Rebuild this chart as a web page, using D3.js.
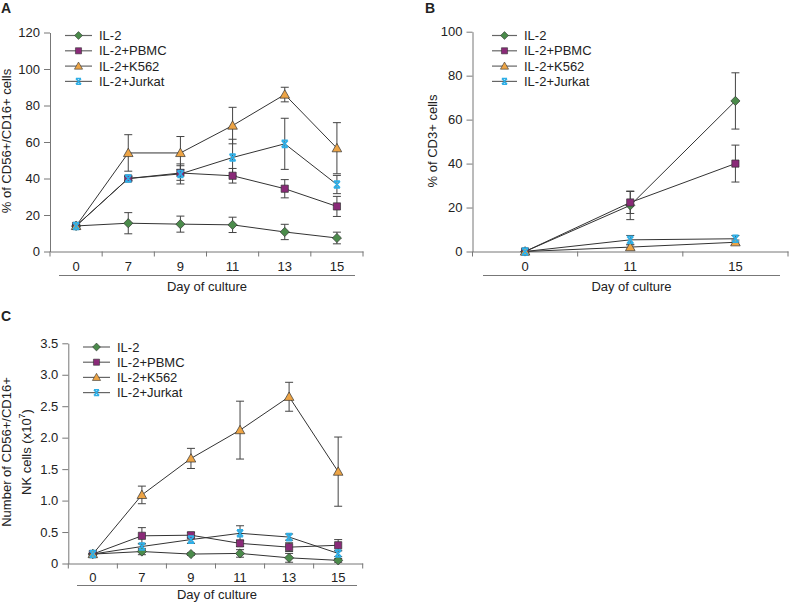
<!DOCTYPE html>
<html>
<head>
<meta charset="utf-8">
<script src="https://cdn.jsdelivr.net/npm/d3@7"></script>
<style>
  body { margin: 0; background: #fff; }
  text { font-family: "Liberation Sans", Arial, sans-serif; fill: #222; }
</style>
</head>
<body>
<script>
// data ----------------------------------------------------------
const seriesNames = ["IL-2", "IL-2+PBMC", "IL-2+K562", "IL-2+Jurkat"];
const seriesColors = ["#4b8b4b", "#8a2a78", "#eda445", "#2eaee6"];

// A: % of CD56+/CD16+ cells
const daysA = ["0", "7", "9", "11", "13", "15"];
const aIL2 = [14, 15.5, 15, 14.6, 10.7, 7.4];
const aIL2Err = [0.5, 5.8, 4.4, 4.2, 4.2, 3.2];
const aPBMC = [14, 40, 43, 41.5, 34.4, 24.7];
const aPBMCErr = [0.5, 1.2, 4, 4, 5, 5.5];
const aK562 = [14, 54, 54, 69, 86, 56.6];
const aK562Err = [0.5, 10, 9, 10, 4, 14];
const aJurkat = [14, 40, 42.5, 51.5, 59, 36.7];
const aJurkatErr = [0.5, 1, 5.5, 10, 14, 5];
const ticksA = [0, 20, 40, 60, 80, 100, 120];

// B: % of CD3+ cells
const daysB = ["0", "11", "15"];
const bIL2 = [0, 21, 68.5];
const bIL2Err = [0.3, 6.5, 12.8];
const bPBMC = [0, 22.3, 40];
const bPBMCErr = [0.3, 5, 8.4];
const bK562 = [0, 2, 4.2];
const bK562Err = [0.3, 1, 1];
const bJurkat = [0, 5.3, 5.8];
const bJurkatErr = [0.3, 2, 1.5];
const ticksB = [0, 20, 40, 60, 80, 100];

// C: number of CD56+/CD16+ NK cells (x10^7)
const daysC = ["0", "7", "9", "11", "13", "15"];
const cIL2 = [0.15, 0.19, 0.15, 0.16, 0.09, 0.05];
const cIL2Err = [0.01, 0.05, 0.02, 0.06, 0.07, 0.03];
const cPBMC = [0.15, 0.44, 0.45, 0.32, 0.26, 0.29];
const cPBMCErr = [0.01, 0.13, 0.04, 0.05, 0.07, 0.09];
const cK562 = [0.15, 1.09, 1.67, 2.12, 2.65, 1.46];
const cK562Err = [0.01, 0.14, 0.16, 0.46, 0.23, 0.55];
const cJurkat = [0.15, 0.27, 0.38, 0.48, 0.42, 0.16];
const cJurkatErr = [0.01, 0.05, 0.06, 0.12, 0.05, 0.05];
const ticksC = [0, 0.5, 1.0, 1.5, 2.0, 2.5, 3.0, 3.5];

// markers -------------------------------------------------------
const markerPaths = [
  "M0,-4.6L4.6,0L0,4.6L-4.6,0Z",             // diamond
  "M-3.6,-3.6H3.6V3.6H-3.6Z",                 // square
  "M0,-4.8L4.8,3.6H-4.8Z",                    // triangle
  "M-3,-3.4H3M-3,3.4H3M-3,-3.4L3,3.4M3,-3.4L-3,3.4"   // x with bars
];

const drawMarker = (sel, i) => {
  if (i === 3) {
    sel.append("path").attr("d", markerPaths[3])
      .attr("fill", "none").attr("stroke", seriesColors[3]).attr("stroke-width", 1.8);
  } else {
    sel.append("path").attr("d", markerPaths[i])
      .attr("fill", seriesColors[i]).attr("stroke", "#333").attr("stroke-width", 0.7);
  }
};

const svg = d3.select(document.body).append("svg")
  .attr("width", 789)
  .attr("height", 605);

function drawPanel (p) {
  const g = svg.append("g");

  const x = d3.scaleBand().domain(p.days).range(p.xRange).padding(0);
  const y = d3.scaleLinear().domain([0, d3.max(p.ticks)]).range(p.yRange);

  // y axis
  const yAxis = g.append("g")
    .attr("transform", `translate(${p.xRange[0]},0)`)
    .call(d3.axisLeft(y).tickValues(p.ticks).tickSize(6).tickSizeOuter(0).tickFormat(p.fmt));
  yAxis.selectAll("line, path").attr("stroke", "#777");
  yAxis.selectAll("text").attr("font-size", 13).attr("fill", "#222")
    .style("font-family", "'Liberation Sans', Arial, sans-serif").attr("dx", -1);

  // x axis: labels in band centres, ticks on band edges
  const xAxis = g.append("g")
    .attr("transform", `translate(0,${y(0)})`)
    .call(d3.axisBottom(x).tickSize(0).tickPadding(p.labelPad));
  xAxis.select(".domain").attr("stroke", "#777");
  xAxis.selectAll("text").attr("font-size", 13).attr("fill", "#222")
    .style("font-family", "'Liberation Sans', Arial, sans-serif");
  g.append("g").selectAll("line")
    .data(d3.range(p.days.length + 1))
    .join("line")
      .attr("x1", i => p.xRange[0] + i * x.step())
      .attr("x2", i => p.xRange[0] + i * x.step())
      .attr("y1", y(0))
      .attr("y2", y(0) + 5)
      .attr("stroke", "#777");

  // rule under the day labels
  g.append("line")
    .attr("x1", p.rule[0]).attr("x2", p.rule[1])
    .attr("y1", p.ruleY).attr("y2", p.ruleY)
    .attr("stroke", "#777");

  g.append("text")
    .attr("x", (p.rule[0] + p.rule[1]) / 2)
    .attr("y", p.titleY)
    .attr("text-anchor", "middle")
    .attr("font-size", 13)
    .text("Day of culture");

  // y label
  const yl = g.append("text")
    .attr("transform", `translate(${p.yLabelX},${p.yLabelY}) rotate(-90)`)
    .attr("text-anchor", "middle")
    .attr("font-size", 13);
  p.yLabel(yl);

  // panel letter
  g.append("text")
    .attr("x", p.letterPos[0]).attr("y", p.letterPos[1])
    .attr("font-size", 14).attr("font-weight", "bold")
    .text(p.letter);

  const cx = d => x(d) + x.bandwidth() / 2;

  p.values.forEach((vals, s) => {
    const pts = vals.map((v, i) => ({ day: p.days[i], v: v, e: p.errs[s][i] }));
    const eb = g.append("g").attr("stroke", "#444").attr("stroke-width", 1);
    eb.selectAll("line.v").data(pts).join("line")
      .attr("x1", d => cx(d.day)).attr("x2", d => cx(d.day))
      .attr("y1", d => y(d.v + d.e)).attr("y2", d => y(Math.max(0, d.v - d.e)));
    eb.selectAll("line.t").data(pts).join("line")
      .attr("x1", d => cx(d.day) - 4).attr("x2", d => cx(d.day) + 4)
      .attr("y1", d => y(d.v + d.e)).attr("y2", d => y(d.v + d.e));
    eb.selectAll("line.b").data(pts.filter(d => d.v - d.e > 0)).join("line")
      .attr("x1", d => cx(d.day) - 4).attr("x2", d => cx(d.day) + 4)
      .attr("y1", d => y(d.v - d.e)).attr("y2", d => y(d.v - d.e));

    g.append("path")
      .datum(pts)
      .attr("fill", "none")
      .attr("stroke", "#333")
      .attr("stroke-width", 1)
      .attr("d", d3.line().x(d => cx(d.day)).y(d => y(d.v)));
  });

  p.values.forEach((vals, s) => {
    vals.forEach((v, i) => {
      const m = g.append("g").attr("transform", `translate(${cx(p.days[i])},${y(v)})`);
      drawMarker(m, s);
    });
  });

  // legend
  const lg = g.append("g");
  seriesNames.forEach((name, i) => {
    const ly = p.legend.y + i * p.legend.dy;
    lg.append("line")
      .attr("x1", p.legend.x).attr("x2", p.legend.x + p.legend.w)
      .attr("y1", ly).attr("y2", ly)
      .attr("stroke", "#666").attr("stroke-width", 1.2);
    const m = lg.append("g")
      .attr("transform", `translate(${p.legend.x + p.legend.w / 2},${ly}) scale(0.85)`);
    drawMarker(m, i);
    lg.append("text")
      .attr("x", p.legend.x + p.legend.w + 7)
      .attr("y", ly + 4.5)
      .attr("font-size", 13)
      .text(name);
  });
}

drawPanel({
  letter: "A", letterPos: [1, 12.5],
  days: daysA, ticks: ticksA, fmt: d3.format("d"),
  values: [aIL2, aPBMC, aK562, aJurkat],
  errs: [aIL2Err, aPBMCErr, aK562Err, aJurkatErr],
  xRange: [50, 363], yRange: [251.5, 32.5],
  labelPad: 10, rule: [59, 355], ruleY: 275.5, titleY: 290.5,
  yLabelX: 10.5, yLabelY: 141,
  yLabel: t => t.text("% of CD56+/CD16+ cells"),
  legend: { x: 65, w: 27, y: 35.5, dy: 15.3 }
});

drawPanel({
  letter: "B", letterPos: [425, 12.5],
  days: daysB, ticks: ticksB, fmt: d3.format("d"),
  values: [bIL2, bPBMC, bK562, bJurkat],
  errs: [bIL2Err, bPBMCErr, bK562Err, bJurkatErr],
  xRange: [472.5, 788], yRange: [251.5, 31.7],
  labelPad: 10, rule: [483, 780], ruleY: 275.5, titleY: 290.5,
  yLabelX: 437, yLabelY: 141,
  yLabel: t => t.text("% of CD3+ cells"),
  legend: { x: 492, w: 25, y: 35.5, dy: 15.3 }
});

drawPanel({
  letter: "C", letterPos: [1, 320.5],
  days: daysC, ticks: ticksC, fmt: d => d === 0 ? "0" : d3.format(".1f")(d),
  values: [cIL2, cPBMC, cK562, cJurkat],
  errs: [cIL2Err, cPBMCErr, cK562Err, cJurkatErr],
  xRange: [68.3, 362.7], yRange: [563.5, 343.3],
  labelPad: 9, rule: [77, 357], ruleY: 585.5, titleY: 599,
  yLabelX: 10.5, yLabelY: 452,
  yLabel: t => {
    t.append("tspan").attr("x", 0).attr("dy", 0).text("Number of CD56+/CD16+");
    t.append("tspan").attr("x", 0).attr("dy", 20.5).text("NK cells (x10");
    t.append("tspan").attr("font-size", 9).attr("dy", -6).text("7");
    t.append("tspan").attr("dy", 6).text(")");
  },
  legend: { x: 83, w: 27, y: 347, dy: 15.2 }
});
</script>
</body>
</html>
